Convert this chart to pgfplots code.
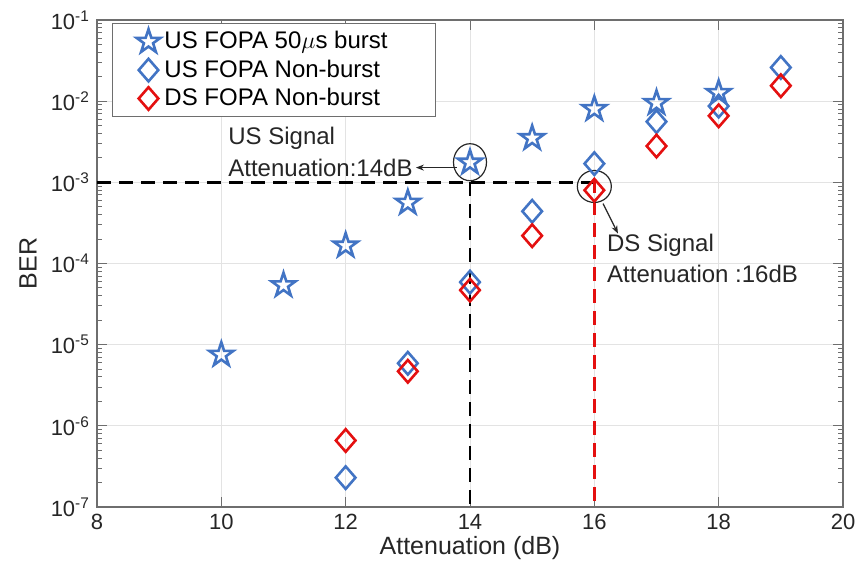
\documentclass[border=0pt]{standalone}
\usepackage{fontspec}
\setmainfont{Liberation Sans}
\usepackage{pgfplots}
\pgfplotsset{compat=1.18}
\usetikzlibrary{arrows.meta}
\definecolor{mblue}{RGB}{66,116,196}
\definecolor{mred}{RGB}{228,16,16}
\definecolor{axgray}{RGB}{110,110,110}

\pgfdeclareplotmark{pentagram}{%
 \pgfpathmoveto{\pgfpointpolar{90}{\pgfplotmarksize}}%
 \pgfpathlineto{\pgfpointpolar{126}{0.382\pgfplotmarksize}}%
 \pgfpathlineto{\pgfpointpolar{162}{\pgfplotmarksize}}%
 \pgfpathlineto{\pgfpointpolar{198}{0.382\pgfplotmarksize}}%
 \pgfpathlineto{\pgfpointpolar{234}{\pgfplotmarksize}}%
 \pgfpathlineto{\pgfpointpolar{270}{0.382\pgfplotmarksize}}%
 \pgfpathlineto{\pgfpointpolar{306}{\pgfplotmarksize}}%
 \pgfpathlineto{\pgfpointpolar{342}{0.382\pgfplotmarksize}}%
 \pgfpathlineto{\pgfpointpolar{18}{\pgfplotmarksize}}%
 \pgfpathlineto{\pgfpointpolar{54}{0.382\pgfplotmarksize}}%
 \pgfpathclose\pgfusepathqstroke}
\pgfdeclareplotmark{mdiamond}{%
 \pgfpathmoveto{\pgfqpoint{0pt}{1.15\pgfplotmarksize}}%
 \pgfpathlineto{\pgfqpoint{\pgfplotmarksize}{0pt}}%
 \pgfpathlineto{\pgfqpoint{0pt}{-1.15\pgfplotmarksize}}%
 \pgfpathlineto{\pgfqpoint{-\pgfplotmarksize}{0pt}}%
 \pgfpathclose\pgfusepathqstroke}

\begin{document}
\begin{tikzpicture}
\useasboundingbox (-48.5pt,-28.5pt) rectangle (380pt,253.5pt);
\begin{axis}[
 scale only axis, width=373pt, height=243.5pt,
 xmin=8, xmax=20, ymode=log, ymin=1e-7, ymax=1e-1,
 xtick={8,10,...,20},
 ytick={1e-7,1e-6,1e-5,1e-4,1e-3,1e-2,1e-1},
 yticklabels={10\textsuperscript{-7},10\textsuperscript{-6},10\textsuperscript{-5},10\textsuperscript{-4},10\textsuperscript{-3},10\textsuperscript{-2},10\textsuperscript{-1}},
 /pgf/number format/assume math mode=true,
 grid=major, major grid style={color=black!11, line width=0.5pt},
 axis line style={color=axgray, line width=0.6pt},
 tick style={color=axgray, line width=0.5pt},
 major tick length=5pt, minor tick length=2.5pt,
 ticklabel style={font=\fontsize{11}{13}\selectfont, color=black!85},
 xlabel={Attenuation (dB)}, ylabel={BER},
 label style={font=\fontsize{12.5}{15}\selectfont, color=black!85},
 xlabel style={at={(axis description cs:0.5,-0.084)}, anchor=center},
 ylabel style={at={(axis description cs:-0.0925,0.5)}, anchor=center},
 legend style={at={(0.020,0.994)}, anchor=north west, draw=axgray, line width=0.6pt,
   font=\fontsize{12}{14}\selectfont, inner xsep=12pt, inner ysep=2pt, row sep=0pt,
   cells={anchor=west}},
 legend image code/.code={\path[draw=none] (-5pt,0pt) -- (3pt,0pt); \draw plot coordinates {(0pt,0pt)};},
]
\addplot[only marks, mark=pentagram, mark size=6.3pt, mblue, line width=1.3pt] coordinates {
 (10,7.5e-6) (11,5.4e-5) (12,1.66e-4) (13,5.6e-4) (14,1.75e-3) (15,3.5e-3) (16,8e-3) (17,9.5e-3) (18,1.26e-2)};
\addlegendentry{US FOPA 50$\mu$s burst\hspace*{10pt}}
\addplot[only marks, mark=mdiamond, mark size=4.9pt, mblue, line width=1.3pt] coordinates {
 (12,2.3e-7) (13,5.9e-6) (14,5.9e-5) (15,4.4e-4) (16,1.7e-3) (17,5.6e-3) (18,8.7e-3) (19,2.6e-2)};
\addlegendentry{US FOPA Non-burst}
\addplot[only marks, mark=mdiamond, mark size=4.9pt, mred, line width=1.3pt] coordinates {
 (12,6.6e-7) (13,4.7e-6) (14,4.7e-5) (15,2.2e-4) (16,8e-4) (17,2.8e-3) (18,6.6e-3) (19,1.55e-2)};
\addlegendentry{DS FOPA Non-burst}

\draw[black, line width=1.4pt, dash pattern=on 7pt off 4pt] (axis cs:8,1e-3) -- (axis cs:16,1e-3);
\draw[black, line width=1.4pt, dash pattern=on 7pt off 4pt] (axis cs:14,1e-3) -- (axis cs:14,1e-7);
\draw[mred, line width=1.4pt, dash pattern=on 7pt off 4pt] (axis cs:16,1.1e-3) -- (axis cs:16,1e-7);

\draw[black!85, line width=0.6pt] (axis cs:14,1.77e-3) ellipse [x radius=8.25pt, y radius=9.25pt];
\draw[black!85, line width=0.6pt] (axis cs:16,8.9e-4) ellipse [x radius=8.5pt, y radius=8pt];

\draw[black!85, line width=0.6pt, -{Stealth[length=4pt,width=3pt]}] (axis cs:13.79,1.52e-3) -- (axis cs:13.13,1.52e-3);
\draw[black!85, line width=0.6pt, -{Stealth[length=4pt,width=3pt]}] (axis cs:16.14,5.48e-4) -- (axis cs:16.38,2.34e-4);

\node[anchor=west, inner sep=0pt, font=\fontsize{12}{14}\selectfont, color=black!85] at (axis cs:10.107,3.46e-3) {US Signal};
\node[anchor=west, inner sep=0pt, font=\fontsize{12}{14}\selectfont, color=black!85] at (axis cs:10.107,1.52e-3) {Attenuation:14dB};
\node[anchor=west, inner sep=0pt, font=\fontsize{12}{14}\selectfont, color=black!85] at (axis cs:16.2,1.67e-4) {DS Signal};
\node[anchor=west, inner sep=0pt, font=\fontsize{12}{14}\selectfont, color=black!85] at (axis cs:16.2,7.55e-5) {Attenuation :16dB};
\end{axis}
\end{tikzpicture}
\end{document}
